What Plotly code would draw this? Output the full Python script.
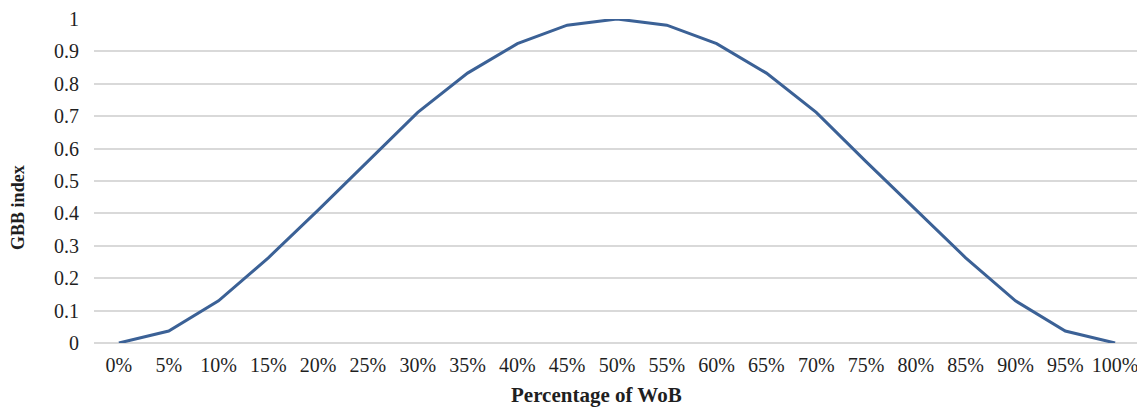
import plotly.graph_objects as go

categories = ["0%", "5%", "10%", "15%", "20%", "25%", "30%", "35%", "40%", "45%", "50%",
              "55%", "60%", "65%", "70%", "75%", "80%", "85%", "90%", "95%", "100%"]
gbb_index = [0, 0.037, 0.13, 0.263, 0.41, 0.56, 0.712, 0.833, 0.924, 0.981, 1.0,
             0.981, 0.924, 0.833, 0.712, 0.56, 0.41, 0.263, 0.13, 0.037, 0]
x_title = "Percentage of WoB"
y_title = "GBB index"

font_family = "Liberation Serif, DejaVu Serif, serif"
txt = "#1F1F1F"

fig = go.Figure()
fig.add_trace(go.Scatter(
    x=categories, y=gbb_index, mode="lines",
    line=dict(color="#3B6196", width=3),
    showlegend=False,
))

fig.update_layout(
    width=1137, height=399,
    margin=dict(l=86, r=5, t=11, b=64, autoexpand=False),
    paper_bgcolor="white", plot_bgcolor="white",
    font=dict(family=font_family, size=20, color=txt),
    xaxis=dict(
        type="category", range=[-0.5, 20.5],
        showgrid=False, showline=False, zeroline=False, ticks="",
        tickfont=dict(size=20, color=txt), ticklabelstandoff=8,
    ),
    yaxis=dict(
        range=[0, 1], dtick=0.1, tick0=0,
        showgrid=True, gridcolor="#D9D9D9", gridwidth=1.5,
        zeroline=True, zerolinecolor="#D9D9D9", zerolinewidth=1.5,
        showline=False, ticks="", ticklabelstandoff=14,
        tickfont=dict(size=20, color=txt),
    ),
    annotations=[
        dict(text="<b>" + x_title + "</b>", xref="paper", yref="paper",
             x=0.48, y=0, xanchor="center", yanchor="middle", yshift=-52,
             showarrow=False, font=dict(size=21, color=txt)),
        dict(text="<b>" + y_title + "</b>", xref="paper", yref="paper",
             x=0, y=0.417, xanchor="center", yanchor="middle", xshift=-76,
             textangle=-90, showarrow=False, font=dict(size=18, color=txt)),
    ],
)

fig.write_html("out.html")
